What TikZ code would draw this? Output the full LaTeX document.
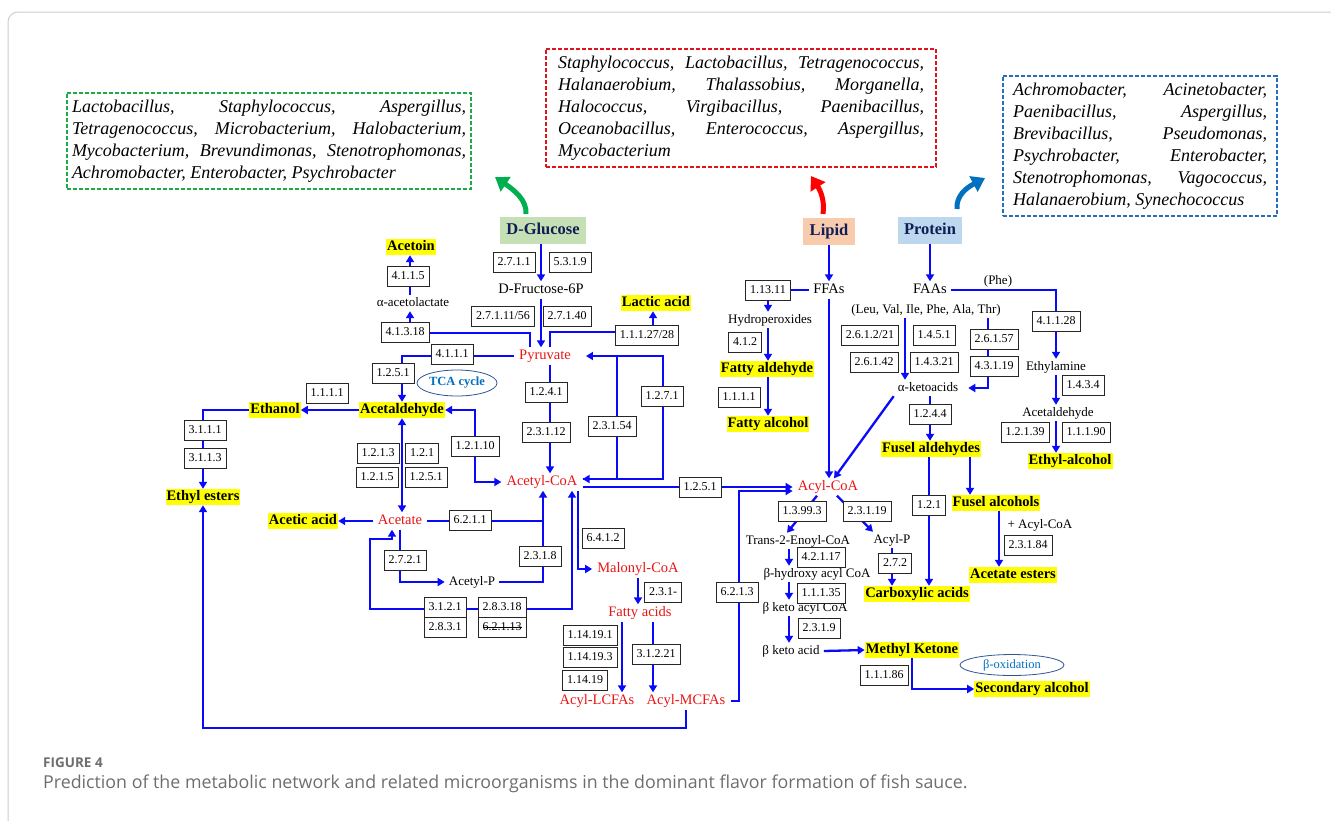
\documentclass[tikz,border=0pt]{standalone}
\usepackage{fontspec}
\setmainfont{Liberation Serif}
\newfontfamily\capfont{Open Sans}
\usetikzlibrary{arrows.meta,shapes.geometric}
\newcommand\strikeec[1]{\setbox0\hbox{#1}\rlap{\rule[3.4pt]{\wd0}{0.6pt}}#1}
\hyphenpenalty=10000
\exhyphenpenalty=10000
\tolerance=10000

\begin{document}
\begin{tikzpicture}[x=1pt,y=-1pt,
    rxn/.style={draw=flowblue,line width=2.3pt,-{Triangle[length=7pt,width=8pt]}},
    rxnboth/.style={draw=flowblue,line width=2.3pt,{Triangle[length=7pt,width=8pt]}-{Triangle[length=7pt,width=8pt]}},
    rxnline/.style={draw=flowblue,line width=2.3pt},
    ec/.style={draw=black!85,line width=0.7pt,fill=white,font=\fontsize{12}{12}\selectfont,inner xsep=4.5pt,inner ysep=0pt,minimum height=20pt},
    cpd/.style={font=\fontsize{13}{13}\selectfont,inner xsep=4pt,inner ysep=2pt,text height=9pt,text depth=3pt},
    bigcpd/.style={cpd,font=\fontsize{14.5}{14.5}\selectfont,text height=10pt},
    redcpd/.style={bigcpd,text=pathred,inner xsep=5pt},
    product/.style={font=\fontsize{14.5}{14.5}\selectfont\bfseries,fill=hlyellow,inner xsep=1pt,inner ysep=1pt,text height=10.5pt,text depth=3.5pt},
    source/.style={font=\fontsize{16.5}{16.5}\selectfont\bfseries,text=navy,inner xsep=6.5pt,text height=11.5pt,text depth=3.5pt,minimum height=27pt},
    microbes/.style={draw,line width=1.4pt,dash pattern=on 4pt off 2pt,align=justify,inner ysep=7pt,font=\fontsize{18}{22}\selectfont\itshape},
    cyclabel/.style={ellipse,draw=cycline,line width=0.8pt,fill=white,text=cyctext,inner sep=0pt,font=\fontsize{12.5}{12.5}\selectfont}
]
    % Colores
    \definecolor{flowblue}{RGB}{10,10,250}
    \definecolor{pathred}{RGB}{235,20,20}
    \definecolor{hlyellow}{RGB}{255,255,0}
    \definecolor{navy}{RGB}{15,30,85}
    \definecolor{glcfill}{RGB}{197,224,180}
    \definecolor{lipfill}{RGB}{248,203,173}
    \definecolor{profill}{RGB}{189,215,238}
    \definecolor{boxgreen}{RGB}{30,170,70}
    \definecolor{boxred}{RGB}{225,20,30}
    \definecolor{boxblue}{RGB}{40,110,190}
    \definecolor{arrgreen}{RGB}{0,176,80}
    \definecolor{arrred}{RGB}{255,0,0}
    \definecolor{arrblue}{RGB}{0,112,192}
    \definecolor{cycline}{RGB}{47,85,151}
    \definecolor{cyctext}{RGB}{0,112,192}
    \definecolor{capgray}{RGB}{110,110,110}
    \definecolor{framegray}{RGB}{205,205,205}

    % Marco
    \useasboundingbox (0,0) rectangle (1331,820);
    \draw[framegray,line width=1pt,rounded corners=10pt] (8,12) rectangle (1380,880);

    % Microorganismos
    \node[microbes,draw=boxgreen,text width=394pt,inner xsep=5pt] (bgl) at (269,141) {Lactobacillus, Staphylococcus, Aspergillus, Tetragenococcus, Microbacterium, Halobacterium, Mycobacterium, Brevundimonas, Stenotrophomonas, Achromobacter, Enterobacter, Psychrobacter};
    \node[microbes,draw=boxred,text width=366pt,inner xsep=12pt] (blp) at (741,108) {Staphylococcus, Lactobacillus, Tetragenococcus, Halanaerobium, Thalassobius, Morganella, Halococcus, Virgibacillus, Paenibacillus, Oceanobacillus, Enterococcus, Aspergillus, Mycobacterium};
    \node[microbes,draw=boxblue,text width=254pt,inner xsep=10pt] (bpr) at (1140,146) {Achromobacter, Acinetobacter, Paenibacillus, Aspergillus, Brevibacillus, Pseudomonas, Psychrobacter, Enterobacter, Stenotrophomonas, Vagococcus, Halanaerobium, Synechococcus};

    % Fuentes
    \node[source,fill=glcfill] (glc) at (543,230) {D-Glucose};
    \node[source,fill=lipfill] (lip) at (829,231) {Lipid};
    \node[source,fill=profill] (pro) at (930,230) {Protein};

    % Flechas curvas
    \draw[arrgreen,line width=5pt,-{Triangle[length=13pt,width=17pt]}] (526,214) .. controls (527,200) and (514,190) .. (495,177);
    \draw[arrred,line width=5pt,-{Triangle[length=13pt,width=17pt]}] (823,214) .. controls (825,200) and (820,190) .. (811,176);
    \draw[arrblue,line width=5pt,-{Triangle[length=13pt,width=17pt]}] (957,209) .. controls (956,196) and (966,188) .. (985,178);

    % Glucosa
    \node[bigcpd] (fru) at (541,290) {D-Fructose-6P};
    \node[redcpd] (pyr) at (545,356) {Pyruvate};
    \node[redcpd] (acoa) at (542,482) {Acetyl-CoA};
    \node[product] (lac) at (656,303) {Lactic acid};
    \node[product] (actn) at (411,247) {Acetoin};
    \node[cpd] (aal) at (413,303) {α-acetolactate};
    \node[product] (acald) at (402,410) {Acetaldehyde};
    \node[product] (etoh) at (275,410) {Ethanol};
    \node[product] (ees) at (203,497) {Ethyl esters};
    \node[redcpd] (acet) at (400,521) {Acetate};
    \node[product] (aca) at (303,521) {Acetic acid};
    \node[cpd] (acp) at (472,582) {Acetyl-P};
    \node[redcpd] (mal) at (638,569) {Malonyl-CoA};
    \node[redcpd] (fa) at (640,613) {Fatty acids};
    \node[redcpd] (lcfa) at (597,701) {Acyl-LCFAs};
    \node[redcpd] (mcfa) at (686,701) {Acyl-MCFAs};
    \node[cyclabel,minimum width=80pt,minimum height=26pt] (tca) at (457,383) {\bfseries TCA cycle};

    % Lipidos
    \node[bigcpd] (ffa) at (829,290) {FFAs};
    \node[cpd] (hpo) at (770,320) {Hydroperoxides};
    \node[product] (fald) at (767,369) {Fatty aldehyde};
    \node[product] (falc) at (768,424) {Fatty alcohol};
    \node[redcpd] (acyl) at (828,487) {Acyl-CoA};

    % Proteinas
    \node[bigcpd] (faa) at (930,290) {FAAs};
    \node[cpd] (aa) at (926,310) {(Leu, Val, Ile, Phe, Ala, Thr)};
    \node[cpd] (phe) at (998,281) {(Phe)};
    \node[cpd] (ketoa) at (928,388) {α-ketoacids};
    \node[cpd] (ethyl) at (1056,367) {Ethylamine};
    \node[cpd] (acald2) at (1058,413) {Acetaldehyde};
    \node[product] (etal) at (1070,461) {Ethyl-alcohol};
    \node[product] (fusald) at (931,449) {Fusel aldehydes};
    \node[product] (fusalc) at (996,503) {Fusel alcohols};
    \node[product] (carb) at (917,594) {Carboxylic acids};
    \node[cpd] (plus) at (1040,525) {+ Acyl-CoA};
    \node[product] (aest) at (1013,575) {Acetate esters};

    % Acil-CoA
    \node[cpd] (enoyl) at (798,541) {Trans-2-Enoyl-CoA};
    \node[cpd] (acylp) at (892,540) {Acyl-P};
    \node[cpd] (hyd) at (817,574) {β-hydroxy acyl CoA};
    \node[cpd] (keto) at (805,608) {β keto acyl CoA};
    \node[cpd] (ketoacid) at (791,651) {β keto acid};
    \node[product] (mk) at (912,650) {Methyl Ketone};
    \node[product] (sec) at (1032,689) {Secondary alcohol};
    \node[cyclabel,minimum width=104pt,minimum height=21pt] (box) at (1012,665) {β-oxidation};

    % Reacciones de la glucosa
    \draw[rxn] (fru.north |- glc.south) -- (fru.north);
    \draw[rxn] (fru.south) -- (fru.south |- pyr.north);
    \draw[rxn] (pyr.north -| 530,0) |- (410,333) -- (aal.south -| 410,0);
    \draw[rxn] (aal.north -| 410,0) -- (actn.south -| 410,0);
    \draw[rxn] (pyr.north -| 550,0) |- (653,332) -- (lac.south -| 653,0);
    \draw[rxn] (pyr.west) -| (acald.north);
    \draw[rxn] (pyr.south -| 550,0) -- (acoa.north -| 550,0);
    \draw[rxn] (acoa.east |- 0,479) -| (663,356) -- ([xshift=10pt]pyr.east);
    \draw[rxn] (pyr.east -| 663,0) |- (acoa.east |- 0,479);
    \draw[rxnline] (pyr.east -| 617,0) -- (617,479);
    \draw[rxn] (acald.west) -- (etoh.east);
    \draw[rxn] (etoh.west) -| (ees.north);
    \draw[rxnboth] (acald.east) -| (475,446) |- (acoa.west);
    \draw[rxnboth] (acald.south) -- (acald.south |- acet.north);
    \draw[rxn] (acet.west) -- (aca.east);
    \draw[rxnline] (acet.east) -- (acet.east -| 543,0);
    \draw[rxn] (acp.east) -| (acoa.south -| 543,0);
    \draw[rxn] (acet.south) |- (acp.west);
    \draw[rxnboth] (acoa.south -| 572,0) |- (370,609) |- (392,539) -- (acet.south -| 392,0);
    \draw[rxn] (acoa.south -| 578,0) |- (mal.west);
    \draw[rxn] (mal.south) -- (mal.south |- fa.north);
    \draw[rxn] (fa.south -| 622,0) -- (lcfa.north -| 622,0);
    \draw[rxn] (fa.south -| 653,0) -- (mcfa.north -| 653,0);
    \draw[rxn] (acoa.east |- acyl.west) -- (acyl.west);
    \draw[rxn] (mcfa.east) -| (739,491) -- (acyl.west |- 0,491);
    \draw[rxn] (mcfa.south) |- (ees.south |- 0,728) -- (ees.south);

    % Reacciones de los lipidos
    \draw[rxn] (lip.south) -- (ffa.north);
    \draw[rxn] (ffa.south) -- (ffa.south |- acyl.north);
    \draw[rxn] (ffa.west) -| (hpo.north -| 768,0);
    \draw[rxn] (hpo.south -| 768,0) -- (fald.north -| 768,0);
    \draw[rxn] (fald.south -| 768,0) -- (falc.north -| 768,0);

    % Reacciones de las proteinas
    \draw[rxn] (pro.south) -- (faa.north);
    \draw[rxn] (faa.east) -| (ethyl.north);
    \draw[rxn] (ethyl.south) -- (ethyl.south |- acald2.north);
    \draw[rxn] (acald2.south -| 1056,0) -- (etal.north -| 1056,0);
    \draw[rxn] (aa.south -| 905,0) -- (ketoa.north -| 905,0);
    \draw[rxn] (aa.south -| 988,0) |- ([xshift=6pt]ketoa.east);
    \draw[rxn] (ketoa.south west) -- ([xshift=6pt]acyl.north);
    \draw[rxn] (ketoa.south -| 930,0) -- (fusald.north -| 930,0);
    \draw[rxn] (fusald.south -| 970,0) -- (fusalc.north -| 970,0);
    \draw[rxn] (fusald.south -| 929,0) -- (carb.north -| 929,0);
    \draw[rxn] (fusalc.south -| 999,0) -- (aest.north -| 999,0);

    % Reacciones del acil-CoA
    \draw[rxn] ([xshift=-11pt]acyl.south) -- ([xshift=-11pt]enoyl.north);
    \draw[rxn] ([xshift=9pt]acyl.south) -- ([xshift=-19pt]acylp.north);
    \draw[rxn] (acylp.south) -- (acylp.south |- carb.north);
    \draw[rxn] (enoyl.south -| 789,0) -- (hyd.north -| 789,0);
    \draw[rxn] (hyd.south -| 789,0) -- (keto.north -| 789,0);
    \draw[rxn] (keto.south -| 789,0) -- (ketoacid.north -| 789,0);
    \draw[rxn] (ketoacid.east) -- (mk.west);
    \draw[rxn] (mk.south) |- (sec.west);

    % Enzimas
    \foreach \x/\y/\t [count=\k] in {514/262/2.7.1.1, 570/262/5.3.1.9, 503/316/{2.7.1.11/56}, 567/316/2.7.1.40,
        647/335/{1.1.1.27/28}, 408/276/4.1.1.5, 405/332/4.1.3.18, 452/354/4.1.1.1, 393/373/1.2.5.1,
        546/392/1.2.4.1, 546/432/2.3.1.12, 612/426/2.3.1.54, 662/396/1.2.7.1, 327/393/1.1.1.1,
        205/430/3.1.1.1, 205/458/3.1.1.3, 475/446/1.2.1.10, 378/453/1.2.1.3, 422/453/1.2.1,
        377/477/1.2.1.5, 426/477/1.2.5.1, 470/520/6.2.1.1, 540/556/2.3.1.8, 405/560/2.7.2.1,
        445/607/3.1.2.1, 445/627/2.8.3.1, 502/607/2.8.3.18, 502/627/{\strikeec{6.2.1.13}},
        603/538/6.4.1.2, 663/592/2.3.1-, 590/635/1.14.19.1, 590/657/1.14.19.3, 585/680/1.14.19,
        656/654/3.1.2.21, 700/487/1.2.5.1, 737/592/6.2.1.3}
        \node[ec] (ecg\k) at (\x,\y) {\t};
    \foreach \x/\y/\t [count=\k] in {768/290/1.13.11, 745/342/4.1.2, 739/397/1.1.1.1}
        \node[ec] (ecl\k) at (\x,\y) {\t};
    \foreach \x/\y/\t [count=\k] in {870/335/{2.6.1.2/21}, 934/335/1.4.5.1, 874/362/2.6.1.42, 934/362/1.4.3.21,
        994/339/2.6.1.57, 994/366/4.3.1.19, 1056/321/4.1.1.28, 1083/385/1.4.3.4, 1025/432/1.2.1.39,
        1086/432/1.1.1.90, 930/414/1.2.4.4, 929/505/1.2.1, 1028/545/2.3.1.84}
        \node[ec] (ecp\k) at (\x,\y) {\t};
    \foreach \x/\y/\t [count=\k] in {802/511/1.3.99.3, 867/511/2.3.1.19, 895/563/2.7.2, 821/557/4.2.1.17,
        821/593/1.1.1.35, 819/628/2.3.1.9, 884/675/1.1.1.86}
        \node[ec] (eca\k) at (\x,\y) {\t};

    % Pie de figura
    \node[anchor=base west,inner sep=0pt,text=capgray,font=\capfont\bfseries\fontsize{13.5}{13.5}\selectfont] (fig) at (43,767) {FIGURE 4};
    \node[anchor=base west,inner sep=0pt,text=capgray,font=\capfont\fontsize{17.8}{17.8}\selectfont] (caption) at (43,788) {Prediction of the metabolic network and related microorganisms in the dominant flavor formation of fish sauce.};

\end{tikzpicture}
\end{document}
